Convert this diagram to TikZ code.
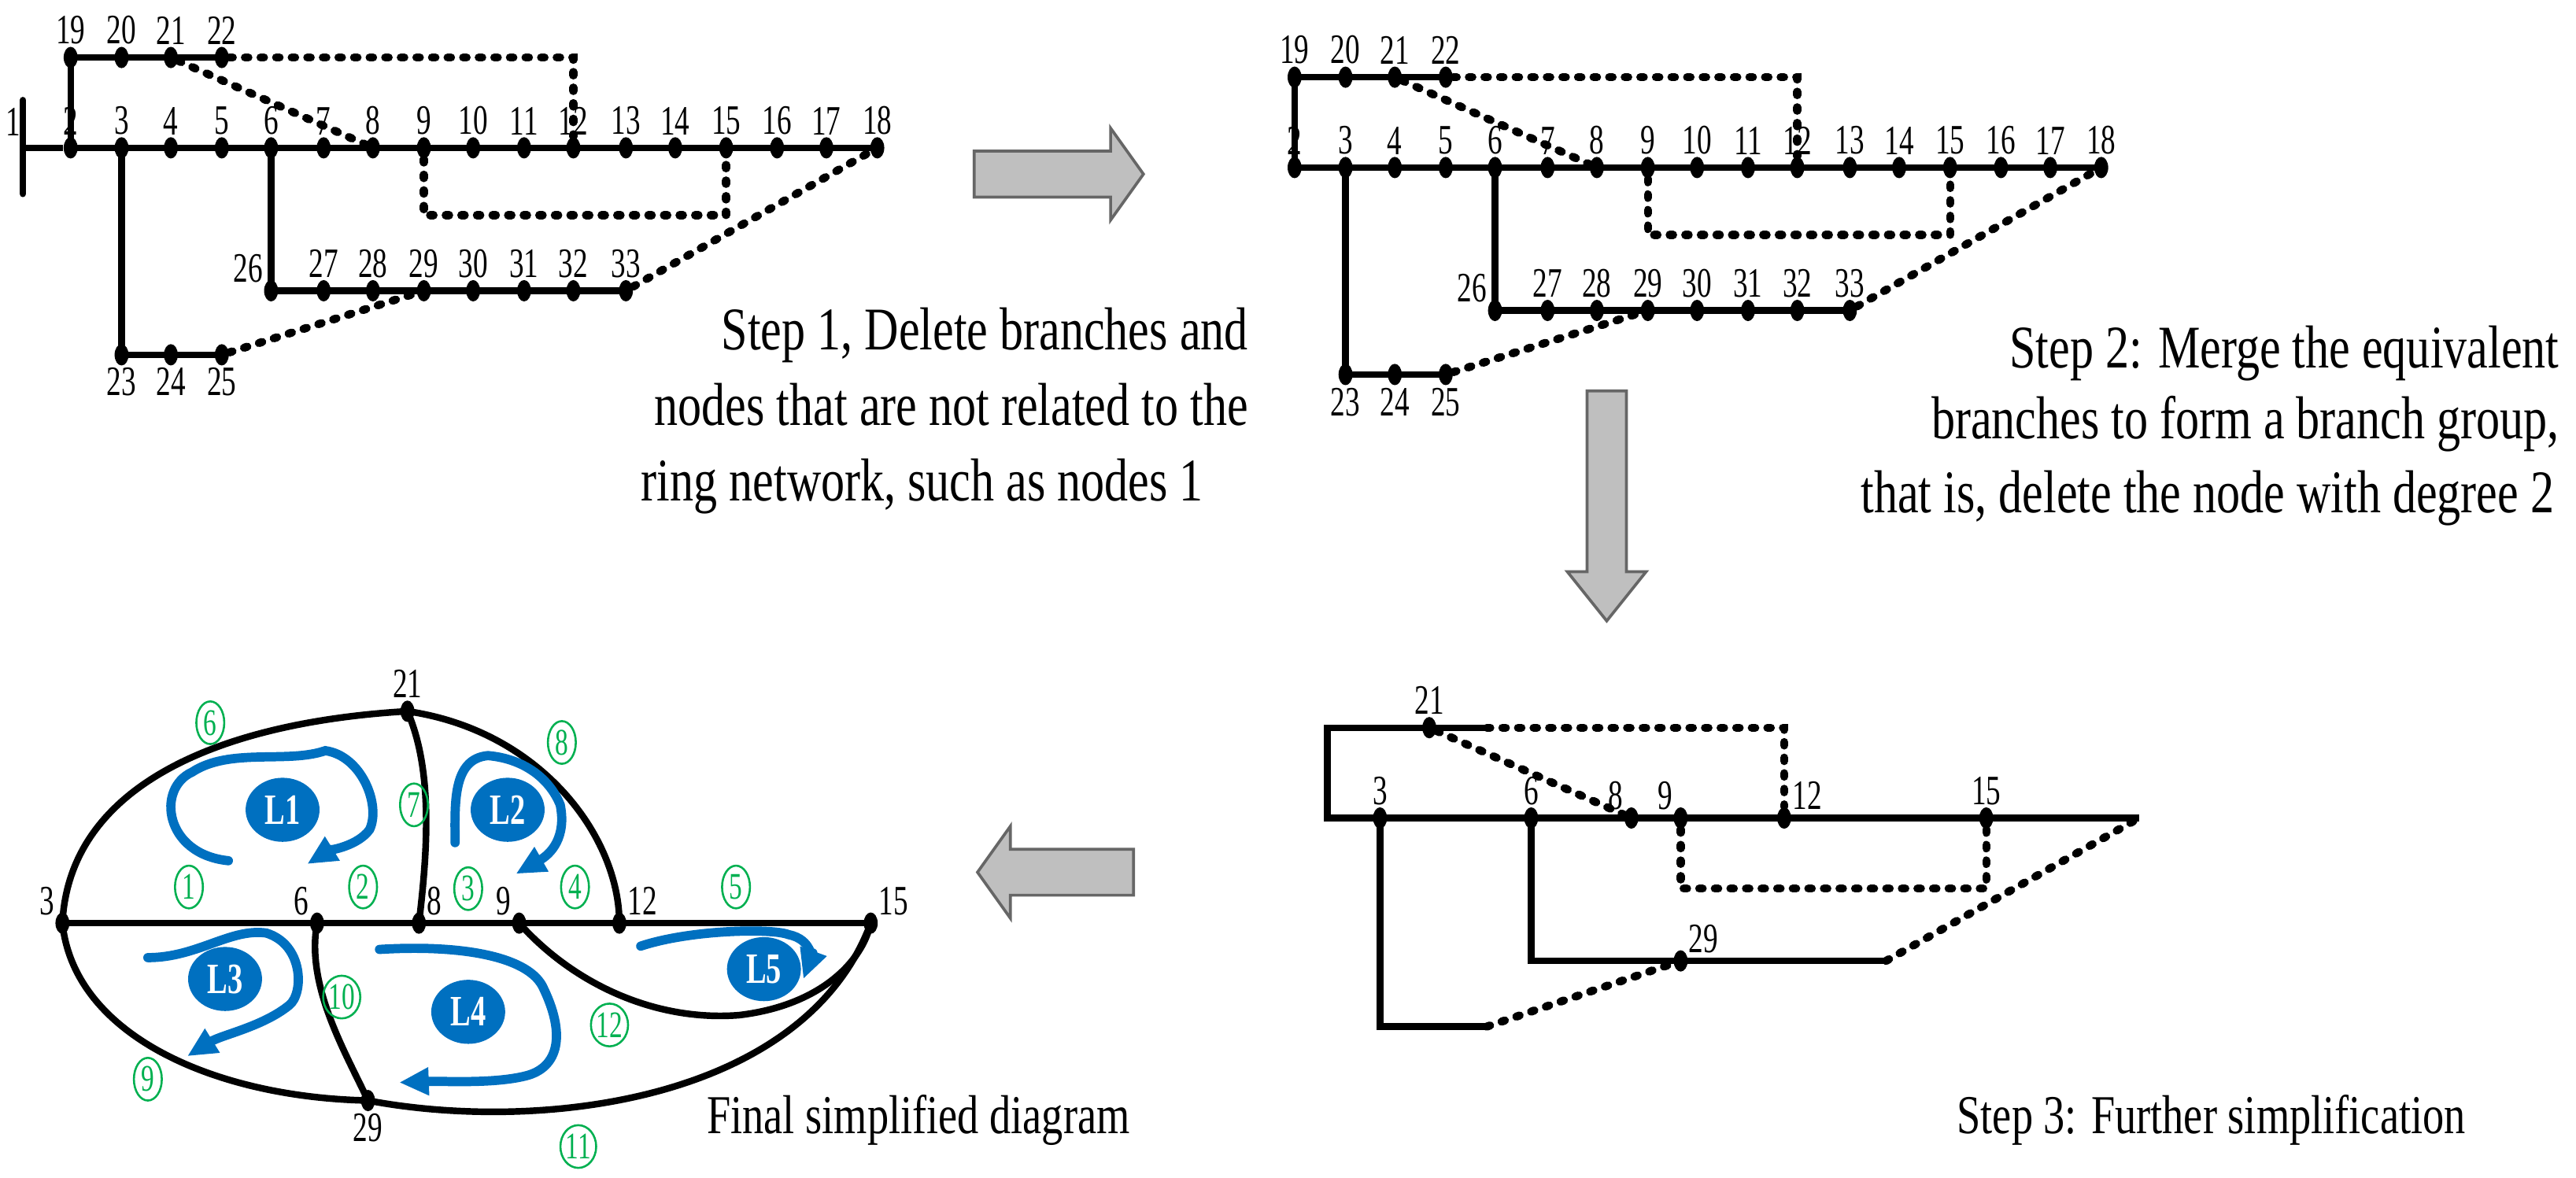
\documentclass[tikz,border=0pt]{standalone}
\usepackage{fontspec}
\setmainfont{Liberation Serif}[FakeStretch=0.78]
\newfontfamily\numf{Liberation Serif}[FakeStretch=0.7]
\usetikzlibrary{shapes.geometric,arrows.meta}
\definecolor{bl}{RGB}{0,112,192}
\definecolor{gr}{RGB}{0,176,80}
\tikzset{
 ln/.style={line width=2.3pt},
 dsh/.style={line width=2.8pt,line cap=round,dash pattern=on 1.2pt off 4.2pt},
 dot/.style={ellipse,fill=black,minimum width=0.17cm,minimum height=0.26cm,inner sep=0pt},
 lbl/.style={font=\numf\fontsize{14.5}{14.5}\selectfont,inner sep=0.5pt,label distance=0pt},
 captxt/.style={font=\fontsize{21}{21}\selectfont,inner sep=0pt},
 captxtb/.style={font=\fontsize{19}{19}\selectfont,inner sep=0pt},
 gnum/.style={ellipse,draw=gr,line width=0.7pt,text=gr,font=\numf\fontsize{13}{13}\selectfont,inner sep=0pt,minimum width=0.34cm,minimum height=0.52cm},
 lp/.style={ellipse,fill=bl,text=white,font=\numf\bfseries\fontsize{15}{15}\selectfont,minimum width=0.9cm,minimum height=0.78cm,inner sep=0pt},
 loop/.style={draw=bl,line width=3.2pt,line cap=round,-{Triangle[length=0.36cm,width=0.32cm]}},
 garrow/.style={fill=black!25,draw=black!60,line width=1pt},
}
\newcommand\drawnet{%
 \foreach \n/\x in {2/43,3/74,4/104,5/135,6/165,7/197,8/227,9/258,10/288,11/319,12/349,13/381,14/411,15/442,16/473,17/503,18/534}
   {\node[dot,label={[lbl]above:\n}] (n\n) at (\x,90) {};}
 \foreach \n/\x in {19/43,20/74,21/104,22/135}
   {\node[dot,label={[lbl]above:\n}] (n\n) at (\x,35) {};}
 \foreach \n/\x in {23/74,24/104,25/135}
   {\node[dot,label={[lbl]below:\n}] (n\n) at (\x,216) {};}
 \node[dot,label={[lbl]above left:26}] (n26) at (165,177) {};
 \foreach \n/\x in {27/197,28/227,29/258,30/288,31/319,32/349,33/381}
   {\node[dot,label={[lbl]above:\n}] (n\n) at (\x,177) {};}
 \draw[ln] (n2.center) -- (n18.center);
 \draw[ln] (n2.center) -- (n19.center) -- (n22.center);
 \draw[ln] (n3.center) -- (n23.center) -- (n25.center);
 \draw[ln] (n6.center) -- (n26.center) -- (n33.center);
 \draw[dsh] (n22) -| (n12);
 \draw[dsh] (n21) -- (n8);
 \draw[dsh] (n9) -- ++(0,41) -| (n15);
 \draw[dsh] (n25) -- (n29);
 \draw[dsh] (n33) -- (n18);
}
\begin{document}
\begin{tikzpicture}[x=0.02cm,y=-0.02cm]
\useasboundingbox (0,0) rectangle (1568,716.7);
% panel 1
\begin{scope}[name prefix=a]
 \drawnet
 \coordinate (n1) at (14,90);
 \draw[ln,line cap=round] (14,61) -- (14,118);
 \draw[ln] (n1) -- (n2);
 \node[lbl] (l1) at (8,74) {1};
\end{scope}
\node[captxt,anchor=base east] (c1a) at (760,213) {Step 1, Delete branches and};
\node[captxt,anchor=base east] (c1b) at (760,259) {nodes that are not related to the};
\node[captxt,anchor=base west] (c1c) at (390,305) {ring network, such as nodes 1};
% panel 2
\begin{scope}[shift={(745,12)},name prefix=b]
 \drawnet
\end{scope}
\node[captxt,anchor=base east] (c2a) at (1558,224) {Step 2: Merge the equivalent};
\node[captxt,anchor=base east] (c2b) at (1558,267) {branches to form a branch group,};
\node[captxt,anchor=base east] (c2c) at (1555,312) {that is, delete the node with degree 2};
% arrows
\draw[garrow] (593,92) -- (676,92) -- (676,78) -- (696,106) -- (676,134) -- (676,120) -- (593,120) -- cycle;
\draw[garrow] (966,238) -- (966,348) -- (954,348) -- (978,378) -- (1002,348) -- (990,348) -- (990,238) -- cycle;
\draw[garrow] (690,517) -- (615,517) -- (615,503) -- (595,531) -- (615,559) -- (615,545) -- (690,545) -- cycle;
% panel 3
\node[dot,label={[lbl]above:21}] (c21) at (870,443) {};
\node[dot,label={[lbl]above:3}] (c3) at (840,498) {};
\node[dot,label={[lbl]above:6}] (c6) at (932,498) {};
\node[dot,label={[lbl]above left:8}] (c8) at (993,498) {};
\node[dot,label={[lbl]above left:9}] (c9) at (1023,498) {};
\node[dot,label={[lbl]above right:12}] (c12) at (1086,498) {};
\node[dot,label={[lbl]above:15}] (c15) at (1209,498) {};
\node[dot,label={[lbl]above right:29}] (c29) at (1023,585) {};
\coordinate (cA) at (808,443);
\coordinate (cB) at (808,498);
\coordinate (cC) at (905,443);
\coordinate (cD) at (1302,498);
\coordinate (cE) at (840,625);
\coordinate (cF) at (905,625);
\coordinate (cG) at (932,585);
\coordinate (cH) at (1148,585);
\draw[ln] (cC) -- (cA) -- (cB) -- (cD);
\draw[ln] (c3.center) -- (cE) -- (cF);
\draw[ln] (c6.center) -- (cG) -- (cH);
\draw[dsh] (cC) -| (c12);
\draw[dsh] (c21) -- (c8);
\draw[dsh] (c9) -- ++(0,43) -| (c15);
\draw[dsh] (cF) -- (c29);
\draw[dsh] (cH) -- (cD);
\node[captxtb,anchor=base] (c3t) at (1346,690) {Step 3: Further simplification};
% panel 4
\node[dot,label={[lbl]above left:3}] (d3) at (38,562) {};
\node[dot,label={[lbl]above left:6}] (d6) at (193,562) {};
\node[dot,label={[lbl]above right:8}] (d8) at (255,562) {};
\node[dot,label={[lbl]above left:9}] (d9) at (316,562) {};
\node[dot,label={[lbl]above right:12}] (d12) at (377,562) {};
\node[dot,label={[lbl]above right:15}] (d15) at (530,562) {};
\node[dot,label={[lbl]above:21}] (d21) at (248,433) {};
\node[dot,label={[lbl]below:29}] (d29) at (224,670) {};
\draw[ln] (d3.center) -- (d15.center);
\draw[ln] (d3.center) .. controls (42,480) and (130,440) .. (d21.center);
\draw[ln] (d21.center) .. controls (330,445) and (377,510) .. (d12.center);
\draw[ln] (d21.center) .. controls (264,470) and (260,520) .. (d8.center);
\draw[ln] (d3.center) .. controls (45,630) and (130,668) .. (d29.center);
\draw[ln] (d29.center) .. controls (330,690) and (490,670) .. (d15.center);
\draw[ln] (d6.center) .. controls (186,600) and (210,640) .. (d29.center);
\draw[ln] (d9.center) .. controls (350,600) and (400,622) .. (450,618) .. controls (500,612) and (525,585) .. (d15.center);
\foreach \t/\x/\y in {1/115/540,2/221/540,3/285/541,4/350/540,5/448/540,6/128/440,7/252/490,8/342/452,9/90/657,10/208/607,11/352/698,12/371/624}
  {\node[gnum] (g\t) at (\x,\y) {\t};}
\node[lp] (L1) at (172,493) {L1};
\node[lp] (L2) at (309,493) {L2};
\node[lp] (L3) at (137,596) {L3};
\node[lp] (L4) at (285,616) {L4};
\node[lp] (L5) at (465,590) {L5};
\draw[loop] (139,524) .. controls (100,520) and (95,480) .. (117,470) .. controls (140,455) and (175,465) .. (198,457) .. controls (220,460) and (232,490) .. (225,505) .. controls (218,515) and (200,518) .. (187,526);
\draw[loop] (277,513) .. controls (277,490) and (275,462) .. (297,460) .. controls (320,462) and (335,475) .. (341,490) .. controls (345,510) and (335,520) .. (314,532);
\draw[loop] (90,583) .. controls (120,583) and (140,565) .. (162,568) .. controls (185,575) and (185,605) .. (176,612) .. controls (160,625) and (135,630) .. (114,643);
\draw[loop] (231,578) .. controls (280,575) and (320,582) .. (330,600) .. controls (345,630) and (340,650) .. (320,655) .. controls (300,660) and (270,658) .. (243,659);
\draw[loop] (390,576) .. controls (420,566) and (470,565) .. (480,569) .. controls (495,572) and (493,585) .. (489,596);
\node[captxtb,anchor=base] (c4) at (559,690) {Final simplified diagram};
\end{tikzpicture}
\end{document}
